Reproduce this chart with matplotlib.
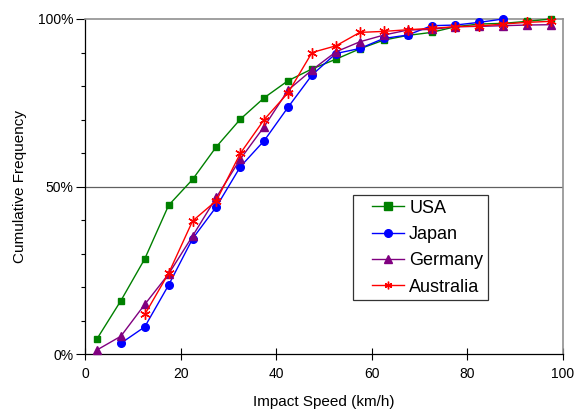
import matplotlib
matplotlib.use("Agg")
import matplotlib.pyplot as plt
from matplotlib.ticker import MultipleLocator, FuncFormatter
from matplotlib.legend_handler import HandlerLine2D

plt.rcParams['font.family'] = ['Liberation Sans', 'DejaVu Sans']

speed = [2.5, 7.5, 12.5, 17.5, 22.5, 27.5, 32.5, 37.5, 42.5, 47.5,
         52.5, 57.5, 62.5, 67.5, 72.5, 77.5, 82.5, 87.5, 92.5, 97.5]

usa = [4.5, 15.9, 28.4, 44.4, 52.1, 61.9, 70.1, 76.5, 81.6, 85.1,
       88.0, 91.1, 93.7, 95.1, 96.0, 97.7, 98.5, 98.7, 99.3, 100.0]
japan = [None, 3.2, 8.1, 20.6, 34.4, 44.0, 55.9, 63.7, 73.7, 83.3,
         89.7, 91.2, 94.2, 95.2, 98.0, 98.2, 99.0, 100.0, None, None]
germany = [1.2, 5.3, 14.8, 23.9, 35.2, 46.8, 58.2, 67.9, 78.8, 84.8,
           90.2, 93.2, 95.2, 96.7, 96.9, 97.7, 97.8, 98.0, 98.2, 98.3]
australia = [None, None, 11.8, 24.1, 39.7, 45.8, 59.9, 70.0, 78.0, 90.0,
             92.0, 96.0, 96.3, 96.8, 97.2, 97.7, 97.9, 98.5, 99.0, 99.3]

series = [
    ("USA", usa, "#008000", "s", 5.0),
    ("Japan", japan, "#0000FF", "o", 5.5),
    ("Germany", germany, "#800080", "^", 6.0),
    ("Australia", australia, "#FF0000", (6, 2, 0), 7.5),
]


class ShiftedHandler(HandlerLine2D):
    def create_artists(self, legend, orig_handle, xdescent, ydescent,
                       width, height, fontsize, trans):
        shift = width * 0.31
        return super().create_artists(legend, orig_handle, xdescent - shift,
                                      ydescent, width - shift, height,
                                      fontsize, trans)


fig = plt.figure(figsize=(5.77, 4.13), dpi=100)
ax = fig.add_axes([85/577, 59/413, (563-85)/577, (354-19)/413])

for name, vals, col, mk, ms in series:
    xs = [x for x, v in zip(speed, vals) if v is not None]
    ys = [v for v in vals if v is not None]
    ax.plot(xs, ys, color=col, marker=mk, markersize=ms, linewidth=1.0,
            markeredgecolor=col, markerfacecolor=col, markeredgewidth=1.0,
            label=name, clip_on=False, zorder=3)

ax.set_xlim(0, 100)
ax.set_ylim(0, 100)
ax.xaxis.set_major_locator(MultipleLocator(20))
ax.yaxis.set_major_locator(MultipleLocator(50))
ax.yaxis.set_minor_locator(MultipleLocator(10))
ax.yaxis.set_major_formatter(FuncFormatter(lambda v, p: f"{int(v)}%"))
ax.tick_params(axis='both', labelsize=10, colors='black')
ax.tick_params(axis='x', which='major', direction='inout', length=8.5, width=0.8, pad=5)
ax.tick_params(axis='y', which='major', direction='out', length=6.5, width=0.8, pad=2)
ax.tick_params(axis='y', which='minor', direction='out', length=3, width=0.8)

ax.axhline(50, color='#606060', linewidth=0.9, zorder=1)
for s in ['left', 'bottom']:
    ax.spines[s].set_color('black')
    ax.spines[s].set_linewidth(0.9)
for s in ['top', 'right']:
    ax.spines[s].set_color('#909090')
    ax.spines[s].set_linewidth(1.2)

ax.set_xlabel("Impact Speed (km/h)", fontsize=11, labelpad=10.5)
ax.set_ylabel("Cumulative Frequency", fontsize=11, labelpad=8)

leg = ax.legend(loc='upper left', bbox_to_anchor=((353-85)/478, (354-195)/335),
                fontsize=13, frameon=True, fancybox=False, edgecolor='black',
                handlelength=2.6, handletextpad=0.26, labelspacing=0.52,
                borderpad=0.25, borderaxespad=0,
                handler_map={matplotlib.lines.Line2D: ShiftedHandler()})
leg.get_frame().set_linewidth(0.9)
for h in leg.legend_handles:
    h.set_markersize(5.5)

fig.savefig("out.png", dpi=100)
